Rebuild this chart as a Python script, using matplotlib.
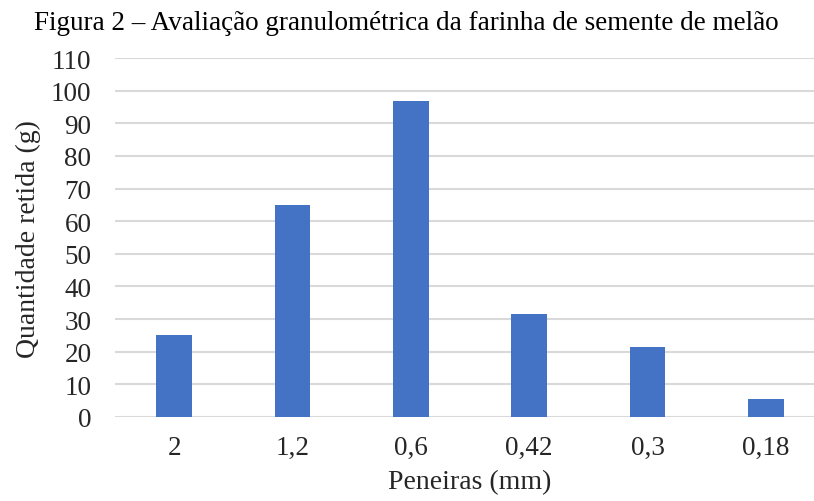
import matplotlib.pyplot as plt

# Peneiras (mm) e quantidade retida (g)
peneiras = ["2", "1,2", "0,6", "0,42", "0,3", "0,18"]
retido = [25.2, 65.1, 96.9, 31.7, 21.5, 5.4]
y_ticks = list(range(0, 111, 10))

plt.rcParams["font.family"] = ["Liberation Serif", "DejaVu Serif"]

fig = plt.figure(figsize=(8.14, 5.02), dpi=100)
ax = fig.add_axes([115 / 814, 84 / 502, 710 / 814, 359 / 502])

ax.bar(range(len(peneiras)), retido, width=0.3, color="#4472C4", zorder=3)

ax.set_xlim(-0.5, len(peneiras) - 0.5)
ax.set_ylim(0, 110)
ax.set_yticks(y_ticks)
ax.set_xticks(range(len(peneiras)))
ax.set_xticklabels(peneiras)
ax.yaxis.grid(True, color="#d9d9d9", linewidth=1.5, zorder=0)
ax.tick_params(axis="both", length=0, labelsize=19.5, colors="#262626")
ax.tick_params(axis="x", pad=13)
ax.tick_params(axis="y", pad=17)
for s in ax.spines.values():
    s.set_visible(False)

fig.text(470 / 814, 1 - 483 / 502, "Peneiras (mm)", ha="center", va="center",
         fontsize=20, color="#262626")
fig.text(28 / 814, 1 - 239 / 502, "Quantidade retida (g)", ha="center", va="center",
         rotation=90, fontsize=20, color="#262626")
fig.text(406 / 814, 1 - 24 / 502, "Figura 2 – Avaliação granulométrica da farinha de semente de melão",
         ha="center", va="center", fontsize=19.5, color="black")

fig.savefig("out.png", dpi=100)
